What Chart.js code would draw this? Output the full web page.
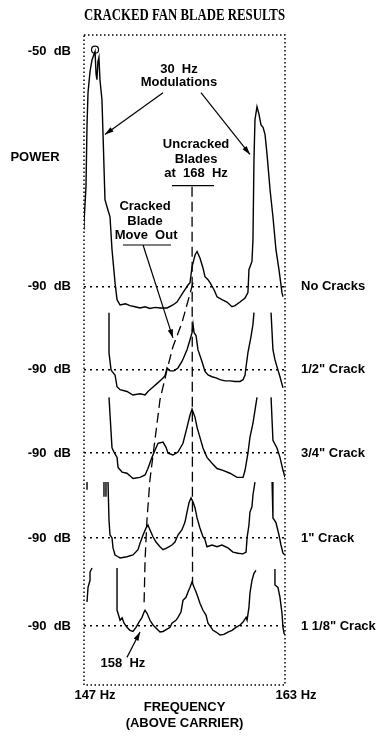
<!DOCTYPE html>
<html>
<head>
<title>Cracked Fan Blade Results</title>
<script src="https://cdn.jsdelivr.net/npm/chart.js"></script>
<style>
  body { margin: 0; background: #fff; }
  #wrap { width: 385px; height: 741px; }
</style>
</head>
<body>
<div id="wrap"><canvas id="fan_chart"></canvas></div>

<script>
// spectra, [Hz, dB]; null = hidden part of the trace
const noCracks = [[147.00,-80.3],[147.00,-79.1],[147.16,-72.9],[147.24,-62.5],[147.32,-57.0],[147.48,-53.4],[147.64,-51.4],[147.88,-50.0],[147.96,-53.8],[148.03,-54.8],[148.11,-51.7],[148.19,-51.0],[148.27,-54.8],[148.43,-58.2],[148.51,-63.8],[148.67,-75.2],[148.83,-76.4],[149.07,-78.1],[149.23,-83.7],[149.47,-89.3],[149.63,-92.2],[149.87,-93.1],[150.30,-92.9],[150.66,-93.2],[151.06,-93.4],[151.46,-93.6],[151.86,-93.4],[152.25,-93.7],[152.65,-93.5],[153.05,-93.6],[153.61,-93.6],[154.08,-93.1],[154.40,-92.6],[154.88,-91.0],[155.28,-89.7],[155.44,-89.3],[155.60,-86.6],[155.84,-84.6],[156.00,-84.0],[156.23,-85.1],[156.47,-86.8],[156.63,-88.3],[156.87,-88.8],[157.03,-89.3],[157.35,-90.5],[157.59,-91.7],[157.98,-92.2],[158.38,-92.6],[158.78,-93.4],[159.02,-93.2],[159.42,-92.6],[159.82,-91.9],[160.05,-91.0],[160.13,-87.1],[160.37,-85.7],[160.45,-82.0],[160.53,-68.4],[160.61,-61.6],[160.77,-59.4],[160.93,-60.7],[161.09,-62.5],[161.25,-62.9],[161.41,-64.1],[161.57,-67.5],[161.81,-73.5],[162.04,-78.1],[162.28,-83.7],[162.52,-87.1],[162.76,-91.0],[162.84,-91.7]];
const halfCrack = [[148.99,-80.3],[148.99,-87.1],[149.15,-90.0],[149.23,-90.3],[149.47,-90.9],[149.63,-92.9],[149.87,-93.4],[150.42,-93.7],[150.90,-94.3],[151.46,-94.1],[151.86,-94.3],[152.09,-93.7],[152.41,-93.1],[152.89,-92.2],[153.29,-91.4],[153.45,-91.0],[153.61,-89.7],[153.85,-90.2],[154.16,-90.2],[154.48,-89.7],[154.80,-88.6],[155.04,-87.4],[155.20,-86.6],[155.44,-84.9],[155.60,-83.7],[155.68,-82.3],[155.76,-83.7],[155.92,-84.2],[156.07,-86.6],[156.39,-88.6],[156.63,-90.3],[156.87,-90.9],[157.19,-91.2],[157.51,-91.4],[157.83,-91.7],[158.22,-91.9],[158.62,-91.9],[159.02,-92.0],[159.42,-92.0],[159.66,-91.7],[159.82,-90.9],[159.90,-89.5],[160.05,-87.1],[160.29,-84.4],[160.45,-82.3],[160.53,-80.3],null,[161.89,-80.3],[162.04,-86.6],[162.20,-88.3],[162.36,-89.5],[162.60,-91.2],[162.84,-93.1]];
const threeQuarterCrack = [[148.99,-80.5],[149.23,-89.1],[149.39,-89.8],[149.63,-90.7],[149.71,-92.4],[150.03,-93.2],[150.42,-93.4],[150.90,-94.3],[151.46,-94.1],[151.86,-93.7],[152.09,-92.6],[152.41,-90.7],[152.65,-89.5],[152.89,-88.3],[153.29,-88.1],[153.53,-89.0],[153.69,-90.0],[154.08,-90.3],[154.48,-89.8],[154.88,-88.3],[155.20,-85.6],[155.44,-83.5],[155.60,-82.5],[155.84,-83.9],[156.00,-85.6],[156.23,-87.3],[156.47,-89.1],[156.79,-90.7],[157.19,-91.7],[157.59,-92.6],[158.06,-92.9],[158.62,-93.4],[159.18,-94.1],[159.66,-94.1],[159.82,-92.9],[160.05,-90.0],[160.21,-87.3],[160.45,-84.9],[160.61,-82.7],[160.77,-80.5],null,[161.89,-80.5],[162.04,-87.8],[162.36,-89.1],[162.60,-90.7],[162.84,-92.9],[163.00,-94.1]];
const oneInchCrack = [[147.24,-80.5],[147.24,-81.8],null,[148.59,-80.5],[148.59,-83.0],null,[148.75,-80.5],[148.75,-83.0],null,[148.91,-80.5],[148.99,-87.0],[149.07,-89.5],[149.23,-90.0],[149.31,-91.7],[149.47,-92.9],[149.71,-93.2],[149.87,-93.4],[150.42,-93.2],[150.90,-92.9],[151.30,-92.0],[151.46,-90.9],[151.70,-89.5],[151.94,-88.3],[152.09,-87.8],[152.25,-88.6],[152.49,-89.8],[152.73,-90.7],[153.05,-91.5],[153.29,-92.0],[153.61,-91.7],[154.00,-91.2],[154.24,-90.7],[154.48,-89.5],[154.80,-88.6],[155.04,-87.3],[155.20,-85.6],[155.36,-84.0],[155.52,-83.2],[155.68,-83.9],[155.84,-84.9],[156.00,-86.6],[156.23,-88.3],[156.47,-89.8],[156.63,-90.3],[156.79,-91.5],[157.19,-91.2],[157.59,-91.5],[157.98,-91.2],[158.46,-91.7],[158.86,-92.4],[159.26,-92.6],[159.66,-92.7],[159.90,-92.4],[159.98,-90.0],[160.13,-87.8],[160.21,-85.6],[160.37,-84.7],[160.45,-82.7],[160.61,-80.5],null,[161.97,-80.5],[162.04,-86.6],[162.28,-87.4],[162.52,-89.5],[162.68,-91.2],[162.84,-92.6],[163.00,-92.9]];
const oneEighthCrack = [[147.24,-85.9],[147.32,-83.4],[147.48,-82.2],[147.48,-80.8],[147.64,-80.1],null,[149.63,-80.1],[149.63,-87.3],[149.71,-87.8],[149.87,-89.0],[150.03,-88.6],[150.19,-89.5],[150.42,-90.2],[150.66,-90.7],[150.90,-90.9],[151.14,-90.2],[151.38,-89.3],[151.62,-88.5],[151.78,-87.6],[151.86,-87.3],[152.02,-87.8],[152.25,-89.0],[152.49,-89.8],[152.73,-90.3],[153.05,-91.0],[153.29,-90.9],[153.61,-90.5],[153.85,-90.2],[154.00,-89.5],[154.32,-89.0],[154.48,-88.5],[154.72,-87.6],[154.88,-85.6],[155.12,-85.1],[155.28,-84.2],[155.44,-83.4],[155.60,-82.5],[155.76,-83.4],[155.92,-84.2],[156.07,-85.1],[156.23,-86.1],[156.47,-87.3],[156.71,-88.1],[156.87,-89.5],[157.11,-90.2],[157.27,-90.7],[157.51,-91.0],[157.83,-91.5],[158.14,-91.4],[158.46,-91.0],[158.78,-90.7],[159.10,-90.2],[159.42,-89.8],[159.66,-89.3],[159.90,-88.5],[159.98,-89.0],[160.13,-86.8],[160.21,-84.4],[160.37,-82.2],[160.53,-81.0],[160.69,-80.5],null,[162.20,-80.3],[162.20,-83.0],[162.44,-83.4],[162.60,-85.1],[162.76,-87.8],[162.84,-90.2],[162.92,-91.2],[163.00,-91.5]];

const traces = [noCracks, halfCrack, threeQuarterCrack, oneInchCrack, oneEighthCrack];
const traceNames = ['No Cracks', '1/2" Crack', '3/4" Crack', '1" Crack', '1 1/8" Crack'];
const traceOffsets = [0, -14.1, -28.3, -42.7, -57.7];   // dB shift of each trace down the stack

const freqTicks = [147, 163];
const freqLabels = ['147 Hz', '163 Hz'];
const powerTicks = [-50, -90, -104.1, -118.3, -132.7, -147.7];
const powerLabels = ['-50  dB', '-90  dB', '-90  dB', '-90  dB', '-90  dB', '-90  dB'];

// dashed guide lines (plot units)
const uncrackedLine = [[155.60,-73.0],[155.64,-140.5]];
const moveOutLine = [[155.68,-89.3],[154.80,-96.1],[154.08,-100.2],[153.61,-104.1],[153.05,-109.2],[152.65,-116.0],[152.25,-122.8],[152.01,-129.7],[151.86,-136.5],[151.78,-144.1]];
const peakMarker = [[147.88,-49.7]];

// call-out texts, underlines and arrows (plot units)
const noteTexts = [
    ['30  Hz', 154.56, -53.1],
    ['Modulations', 154.56, -55.3],
    ['POWER', 143.10, -68.0],
    ['Uncracked', 155.92, -65.8],
    ['Blades', 155.92, -68.3],
    ['at  168  Hz', 155.92, -70.7],
    ['Cracked', 151.86, -76.4],
    ['Blade', 151.86, -78.9],
    ['Move  Out', 151.94, -81.3],
    ['158  Hz', 150.10, -154.0]
];
const underlines = [[154.00,-72.8,157.35,-72.8],[150.10,-82.9,153.93,-82.9]];
const arrows = [[153.29,-57.0,148.67,-64.1],[156.31,-57.0,160.21,-67.5],[151.70,-82.9,154.08,-98.7],[150.42,-153.0,151.46,-148.7]];

const sans = '"Liberation Sans", Arial, sans-serif';
const labelFont = { family: sans, size: 13, weight: 'bold' };

function toPoints(arr, offset) {
    let lastX = 147;
    return arr.map(p => {
        if (p === null) return { x: lastX, y: null };
        lastX = p[0];
        return { x: p[0], y: p[1] + offset };
    });
}

const notesPlugin = {
    id: 'notes',
    afterDatasetsDraw(chart) {
        const { ctx, chartArea: a, scales: { x, y } } = chart;
        ctx.save();
        ctx.strokeStyle = '#000';
        ctx.fillStyle = '#000';
        // dotted frame
        ctx.lineWidth = 1.5;
        ctx.setLineDash([1.5, 2.5]);
        ctx.strokeRect(a.left, a.top, a.right - a.left, a.bottom - a.top);
        ctx.setLineDash([]);

        ctx.lineWidth = 1.2;
        underlines.forEach(l => {
            ctx.beginPath();
            ctx.moveTo(x.getPixelForValue(l[0]), y.getPixelForValue(l[1]));
            ctx.lineTo(x.getPixelForValue(l[2]), y.getPixelForValue(l[3]));
            ctx.stroke();
        });
        arrows.forEach(l => {
            const x1 = x.getPixelForValue(l[0]), y1 = y.getPixelForValue(l[1]);
            const x2 = x.getPixelForValue(l[2]), y2 = y.getPixelForValue(l[3]);
            const ang = Math.atan2(y2 - y1, x2 - x1);
            ctx.beginPath();
            ctx.moveTo(x1, y1);
            ctx.lineTo(x2, y2);
            ctx.stroke();
            ctx.beginPath();
            ctx.moveTo(x2, y2);
            ctx.lineTo(x2 - 9 * Math.cos(ang - 0.3), y2 - 9 * Math.sin(ang - 0.3));
            ctx.lineTo(x2 - 9 * Math.cos(ang + 0.3), y2 - 9 * Math.sin(ang + 0.3));
            ctx.closePath();
            ctx.fill();
        });

        ctx.font = 'bold 13px ' + sans;
        ctx.textAlign = 'center';
        ctx.textBaseline = 'middle';
        noteTexts.forEach(t => ctx.fillText(t[0], x.getPixelForValue(t[1]), y.getPixelForValue(t[2])));
        ctx.restore();
    }
};

const datasets = traces.map((t, i) => ({
    label: traceNames[i],
    data: toPoints(t, traceOffsets[i]),
    borderColor: '#000',
    borderWidth: 1.4,
    pointRadius: 0,
    spanGaps: false,
    xAxisID: 'x',
    yAxisID: 'y'
}));
datasets.push({
    label: 'Uncracked blades',
    data: toPoints(uncrackedLine, 0),
    borderColor: '#000', borderWidth: 1.3, borderDash: [10, 5],
    pointRadius: 0, xAxisID: 'x', yAxisID: 'y'
});
datasets.push({
    label: 'Cracked blade move out',
    data: toPoints(moveOutLine, 0),
    borderColor: '#000', borderWidth: 1.3, borderDash: [10, 5],
    pointRadius: 0, xAxisID: 'x', yAxisID: 'y'
});
datasets.push({
    label: 'Peak',
    data: toPoints(peakMarker, 0),
    showLine: false,
    pointRadius: 3.5, pointStyle: 'circle',
    pointBackgroundColor: 'rgba(255,255,255,0)', pointBorderColor: '#000', pointBorderWidth: 1.2,
    xAxisID: 'x', yAxisID: 'y'
});

new Chart(document.getElementById('fan_chart'), {
    type: 'line',
    data: { datasets: datasets },
    options: {
        responsive: true,
        maintainAspectRatio: false,
        animation: false,
        layout: { padding: 0 },
        plugins: { legend: { display: false }, tooltip: { enabled: false } },
        scales: {
            x: {
                type: 'linear', position: 'bottom', min: 147, max: 163,
                afterFit: s => { s.height = 56; },
                afterBuildTicks: s => { s.ticks = freqTicks.map(v => ({ value: v })); },
                ticks: { callback: (v, i) => freqLabels[i], font: labelFont, color: '#000', padding: 3, labelOffset: 11, autoSkip: false, maxRotation: 0 },
                grid: { display: false, drawTicks: false },
                border: { display: false },
                title: { display: true, text: ['FREQUENCY', '(ABOVE CARRIER)'], font: labelFont, color: '#000', padding: { top: 0, bottom: 10 } }
            },
            xTop: {
                type: 'linear', position: 'top', min: 147, max: 163,
                afterFit: s => { s.height = 35; },
                ticks: { display: false },
                grid: { display: false, drawTicks: false },
                border: { display: false },
                title: { display: true, text: 'CRACKED FAN BLADE RESULTS', color: '#000', font: { family: '"Liberation Serif", "Times New Roman", serif', size: 16, weight: 'bold' }, padding: { top: 6, bottom: 0 } }
            },
            y: {
                type: 'linear', position: 'left', min: -157.7, max: -47.2,
                afterFit: s => { s.width = 84; },
                afterBuildTicks: s => { s.ticks = powerTicks.map(v => ({ value: v })); },
                ticks: { callback: (v, i) => powerLabels[i], font: labelFont, color: '#000', padding: 13, autoSkip: false },
                grid: { color: c => (c.tick && c.tick.value === powerTicks[0]) ? 'rgba(0,0,0,0)' : '#000', lineWidth: 1.5, drawTicks: false },
                border: { display: false, dash: [2, 4] }
            },
            yRight: {
                type: 'linear', position: 'right', min: -157.7, max: -47.2,
                afterFit: s => { s.width = 100; },
                afterBuildTicks: s => { s.ticks = traceOffsets.map(o => ({ value: -90 + o })); },
                ticks: { callback: (v, i) => traceNames[i], font: labelFont, color: '#000', padding: 16, autoSkip: false },
                grid: { display: false, drawTicks: false },
                border: { display: false }
            }
        }
    },
    plugins: [notesPlugin]
});
</script>
</body>
</html>
